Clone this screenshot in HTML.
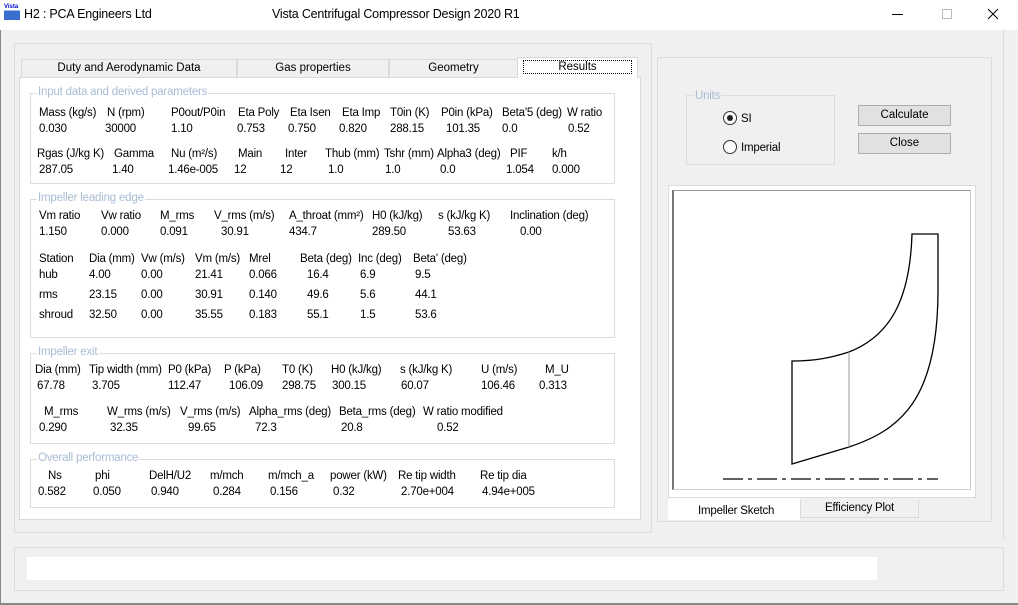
<!DOCTYPE html>
<html><head><meta charset="utf-8"><style>
*{margin:0;padding:0;box-sizing:border-box}
body{width:1018px;height:605px;background:#f0f0f0;position:relative;overflow:hidden;font-family:"Liberation Sans",sans-serif;font-size:11.5px;color:#000}
div{position:absolute}
.t{white-space:nowrap;line-height:14px;letter-spacing:-0.2px}
.b{border:1px solid #dcdcdc}
.g{color:#a8bcd4;background:#fff;padding:0 1px;line-height:12px}
.tab{border:1px solid #d9d9d9;border-bottom:none;background:#f0f0f0;text-align:center;line-height:17px;font-size:11.5px}
.btn{background:#e1e1e1;border:1px solid #adadad;text-align:center;line-height:18px}
</style></head><body>
<div style="left:0;top:0;width:1018px;height:30px;background:#fff"></div>
<div style="top:4px;left:4px;width:16px;height:16px;background:linear-gradient(#fff 0 40%,#3a6fd0 40%);font-size:6px;color:#00c;font-weight:bold">Vista</div>
<div class="t" style="left:24px;top:7px;font-size:12.5px">H2 : PCA Engineers Ltd</div>
<div class="t" style="left:272px;top:7px;font-size:12.5px">Vista Centrifugal Compressor Design 2020 R1</div>
<div style="left:892px;top:14px;width:11px;height:1px;background:#000"></div>
<div style="left:942px;top:9px;width:10px;height:10px;border:1px solid #bbb"></div>
<svg style="position:absolute;left:987px;top:8px" width="12" height="12"><path d="M1 1L11 11M11 1L1 11" stroke="#000" stroke-width="1"/></svg>
<div style="left:0;top:30px;width:1px;height:575px;background:#888"></div>

<div class="b" style="left:14px;top:43px;width:638px;height:490px"></div>
<div class="tab" style="left:21px;top:59px;width:216px;height:18px">Duty and Aerodynamic Data</div>
<div class="tab" style="left:237px;top:59px;width:152px;height:18px">Gas properties</div>
<div class="tab" style="left:389px;top:59px;width:129px;height:18px">Geometry</div>
<div style="left:19px;top:77px;width:622px;height:443px;background:#fff;border:1px solid #d9d9d9"></div>
<div class="tab" style="left:517px;top:57px;width:121px;height:21px;background:#fff;line-height:18px"><span style="outline:1px dotted #000;padding:0 34px">Results</span></div>

<div class="b" style="left:30px;top:93px;width:585px;height:91px"></div>
<div class="g t" style="left:37px;top:86px">Input data and derived parameters</div>
<div class="b" style="left:30px;top:199px;width:585px;height:139px"></div>
<div class="g t" style="left:37px;top:192px">Impeller leading edge</div>
<div class="b" style="left:30px;top:353px;width:585px;height:91px"></div>
<div class="g t" style="left:37px;top:346px">Impeller exit</div>
<div class="b" style="left:30px;top:459px;width:585px;height:49px"></div>
<div class="g t" style="left:37px;top:452px">Overall performance</div>

<div class="t" style="left:39px;top:106px">Mass (kg/s)</div><div class="t" style="left:107px;top:106px">N (rpm)</div><div class="t" style="left:171px;top:106px">P0out/P0in</div><div class="t" style="left:238px;top:106px">Eta Poly</div><div class="t" style="left:290px;top:106px">Eta Isen</div><div class="t" style="left:342px;top:106px">Eta Imp</div><div class="t" style="left:390px;top:106px">T0in (K)</div><div class="t" style="left:441px;top:106px">P0in (kPa)</div><div class="t" style="left:502px;top:106px">Beta'5 (deg)</div><div class="t" style="left:567px;top:106px">W ratio</div>
<div class="t" style="left:39px;top:122px">0.030</div><div class="t" style="left:105px;top:122px">30000</div><div class="t" style="left:171px;top:122px">1.10</div><div class="t" style="left:237px;top:122px">0.753</div><div class="t" style="left:288px;top:122px">0.750</div><div class="t" style="left:339px;top:122px">0.820</div><div class="t" style="left:390px;top:122px">288.15</div><div class="t" style="left:446px;top:122px">101.35</div><div class="t" style="left:502px;top:122px">0.0</div><div class="t" style="left:568px;top:122px">0.52</div>
<div class="t" style="left:37px;top:147px">Rgas (J/kg K)</div><div class="t" style="left:114px;top:147px">Gamma</div><div class="t" style="left:171px;top:147px">Nu (m²/s)</div><div class="t" style="left:238px;top:147px">Main</div><div class="t" style="left:285px;top:147px">Inter</div><div class="t" style="left:325px;top:147px">Thub (mm)</div><div class="t" style="left:384px;top:147px">Tshr (mm)</div><div class="t" style="left:437px;top:147px">Alpha3 (deg)</div><div class="t" style="left:510px;top:147px">PIF</div><div class="t" style="left:552px;top:147px">k/h</div>
<div class="t" style="left:39px;top:163px">287.05</div><div class="t" style="left:112px;top:163px">1.40</div><div class="t" style="left:168px;top:163px">1.46e-005</div><div class="t" style="left:234px;top:163px">12</div><div class="t" style="left:280px;top:163px">12</div><div class="t" style="left:328px;top:163px">1.0</div><div class="t" style="left:385px;top:163px">1.0</div><div class="t" style="left:440px;top:163px">0.0</div><div class="t" style="left:506px;top:163px">1.054</div><div class="t" style="left:552px;top:163px">0.000</div>

<div class="t" style="left:39px;top:209px">Vm ratio</div><div class="t" style="left:101px;top:209px">Vw ratio</div><div class="t" style="left:160px;top:209px">M_rms</div><div class="t" style="left:214px;top:209px">V_rms (m/s)</div><div class="t" style="left:289px;top:209px">A_throat (mm²)</div><div class="t" style="left:372px;top:209px">H0 (kJ/kg)</div><div class="t" style="left:438px;top:209px">s (kJ/kg K)</div><div class="t" style="left:510px;top:209px">Inclination (deg)</div>
<div class="t" style="left:39px;top:225px">1.150</div><div class="t" style="left:101px;top:225px">0.000</div><div class="t" style="left:160px;top:225px">0.091</div><div class="t" style="left:221px;top:225px">30.91</div><div class="t" style="left:289px;top:225px">434.7</div><div class="t" style="left:372px;top:225px">289.50</div><div class="t" style="left:448px;top:225px">53.63</div><div class="t" style="left:520px;top:225px">0.00</div>
<div class="t" style="left:39px;top:252px">Station</div><div class="t" style="left:89px;top:252px">Dia (mm)</div><div class="t" style="left:141px;top:252px">Vw (m/s)</div><div class="t" style="left:195px;top:252px">Vm (m/s)</div><div class="t" style="left:249px;top:252px">Mrel</div><div class="t" style="left:300px;top:252px">Beta (deg)</div><div class="t" style="left:358px;top:252px">Inc (deg)</div><div class="t" style="left:413px;top:252px">Beta' (deg)</div>
<div class="t" style="left:39px;top:268px">hub</div><div class="t" style="left:89px;top:268px">4.00</div><div class="t" style="left:141px;top:268px">0.00</div><div class="t" style="left:195px;top:268px">21.41</div><div class="t" style="left:249px;top:268px">0.066</div><div class="t" style="left:307px;top:268px">16.4</div><div class="t" style="left:360px;top:268px">6.9</div><div class="t" style="left:415px;top:268px">9.5</div>
<div class="t" style="left:39px;top:288px">rms</div><div class="t" style="left:89px;top:288px">23.15</div><div class="t" style="left:141px;top:288px">0.00</div><div class="t" style="left:195px;top:288px">30.91</div><div class="t" style="left:249px;top:288px">0.140</div><div class="t" style="left:307px;top:288px">49.6</div><div class="t" style="left:360px;top:288px">5.6</div><div class="t" style="left:415px;top:288px">44.1</div>
<div class="t" style="left:39px;top:308px">shroud</div><div class="t" style="left:89px;top:308px">32.50</div><div class="t" style="left:141px;top:308px">0.00</div><div class="t" style="left:195px;top:308px">35.55</div><div class="t" style="left:249px;top:308px">0.183</div><div class="t" style="left:307px;top:308px">55.1</div><div class="t" style="left:360px;top:308px">1.5</div><div class="t" style="left:415px;top:308px">53.6</div>

<div class="t" style="left:35px;top:363px">Dia (mm)</div><div class="t" style="left:89px;top:363px">Tip width (mm)</div><div class="t" style="left:168px;top:363px">P0 (kPa)</div><div class="t" style="left:224px;top:363px">P (kPa)</div><div class="t" style="left:282px;top:363px">T0 (K)</div><div class="t" style="left:331px;top:363px">H0 (kJ/kg)</div><div class="t" style="left:400px;top:363px">s (kJ/kg K)</div><div class="t" style="left:481px;top:363px">U (m/s)</div><div class="t" style="left:545px;top:363px">M_U</div>
<div class="t" style="left:37px;top:379px">67.78</div><div class="t" style="left:92px;top:379px">3.705</div><div class="t" style="left:168px;top:379px">112.47</div><div class="t" style="left:229px;top:379px">106.09</div><div class="t" style="left:282px;top:379px">298.75</div><div class="t" style="left:332px;top:379px">300.15</div><div class="t" style="left:401px;top:379px">60.07</div><div class="t" style="left:481px;top:379px">106.46</div><div class="t" style="left:539px;top:379px">0.313</div>
<div class="t" style="left:44px;top:405px">M_rms</div><div class="t" style="left:107px;top:405px">W_rms (m/s)</div><div class="t" style="left:180px;top:405px">V_rms (m/s)</div><div class="t" style="left:249px;top:405px">Alpha_rms (deg)</div><div class="t" style="left:339px;top:405px">Beta_rms (deg)</div><div class="t" style="left:423px;top:405px">W ratio modified</div>
<div class="t" style="left:39px;top:421px">0.290</div><div class="t" style="left:110px;top:421px">32.35</div><div class="t" style="left:188px;top:421px">99.65</div><div class="t" style="left:255px;top:421px">72.3</div><div class="t" style="left:341px;top:421px">20.8</div><div class="t" style="left:437px;top:421px">0.52</div>

<div class="t" style="left:48px;top:469px">Ns</div><div class="t" style="left:95px;top:469px">phi</div><div class="t" style="left:149px;top:469px">DelH/U2</div><div class="t" style="left:210px;top:469px">m/mch</div><div class="t" style="left:268px;top:469px">m/mch_a</div><div class="t" style="left:330px;top:469px">power (kW)</div><div class="t" style="left:398px;top:469px">Re tip width</div><div class="t" style="left:480px;top:469px">Re tip dia</div>
<div class="t" style="left:38px;top:485px">0.582</div><div class="t" style="left:93px;top:485px">0.050</div><div class="t" style="left:151px;top:485px">0.940</div><div class="t" style="left:213px;top:485px">0.284</div><div class="t" style="left:270px;top:485px">0.156</div><div class="t" style="left:333px;top:485px">0.32</div><div class="t" style="left:401px;top:485px">2.70e+004</div><div class="t" style="left:482px;top:485px">4.94e+005</div>

<div class="b" style="left:657px;top:57px;width:335px;height:465px"></div>
<div style="left:1003px;top:30px;width:1px;height:510px;background:#dcdcdc"></div>
<div class="b" style="left:686px;top:95px;width:149px;height:70px"></div>
<div class="t" style="left:694px;top:89px;color:#a8bcd4;background:#f0f0f0;padding:0 1px">Units</div>
<div style="left:723px;top:111px;width:14px;height:14px;border:1px solid #333;border-radius:50%;background:#fff"></div>
<div style="left:727px;top:115px;width:6px;height:6px;border-radius:50%;background:#222"></div>
<div class="t" style="left:741px;top:112px">SI</div>
<div style="left:723px;top:140px;width:14px;height:14px;border:1px solid #333;border-radius:50%;background:#fff"></div>
<div class="t" style="left:741px;top:141px">Imperial</div>
<div class="btn" style="left:858px;top:105px;width:93px;height:21px">Calculate</div>
<div class="btn" style="left:858px;top:133px;width:93px;height:21px">Close</div>

<div style="left:668px;top:185px;width:308px;height:313px;background:#fff;border:1px solid #dcdcdc"></div>
<div style="left:672px;top:190px;width:299px;height:300px;background:#fff;border:1px solid #d0d0d0;border-left:2px solid #777;border-top:1px solid #999"></div>
<svg style="position:absolute;left:0;top:0" width="1018" height="605">
<g fill="none" stroke="#000" stroke-width="1.3">
<path d="M912 234 H938 V290 C938 400 900 430 849 447 L792 464 V361 C815 361 830 358 849 352 C890 336 910 300 912 234 Z"/>
</g>
<line x1="849" y1="352" x2="849" y2="447" stroke="#999" stroke-width="1"/>
<line x1="723" y1="479" x2="938" y2="479" stroke="#000" stroke-width="1.3" stroke-dasharray="20,5,4,5"/>
</svg>
<div style="left:668px;top:498px;width:132px;height:22px;background:#fff"></div>
<div class="t" style="left:698px;top:504px">Impeller Sketch</div>
<div style="left:800px;top:500px;width:119px;height:18px;border:1px solid #d9d9d9;border-top:none;background:#f0f0f0;text-align:center;line-height:16px" class="t">Efficiency Plot</div>

<div class="b" style="left:14px;top:547px;width:990px;height:44px"></div>
<div style="left:27px;top:557px;width:850px;height:23px;background:#fff"></div>
<div style="left:0;top:603px;width:1018px;height:2px;background:#888"></div>
</body></html>
